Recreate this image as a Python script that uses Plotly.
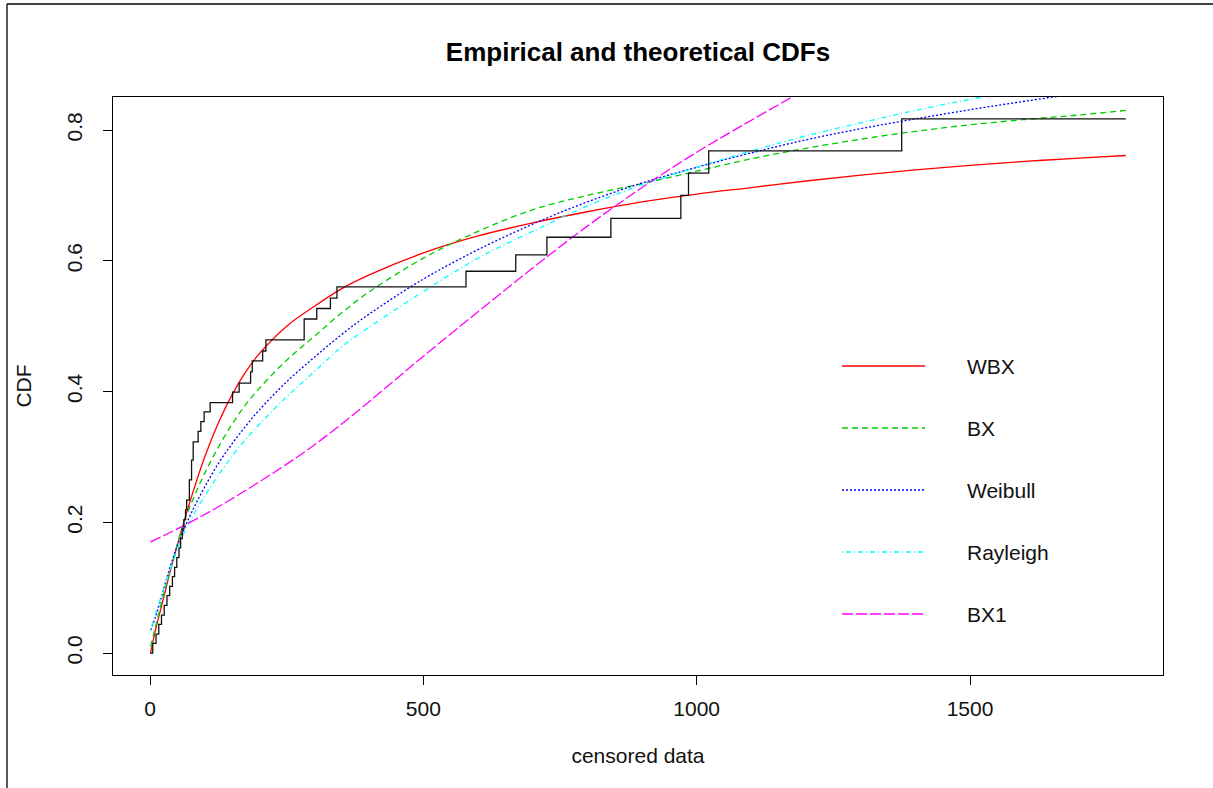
import plotly.graph_objects as go

# ---------------- data ----------------
ecdf_t = [0, 5, 11, 16, 21, 26, 31, 36, 41, 45, 49, 53, 56, 59, 62, 65, 67, 72, 76, 79, 88, 93, 99, 110,
          151, 163, 184, 187, 206, 212, 282, 305, 330, 342, 578, 669, 726, 843, 971, 985, 1022, 1375, 1785]
ecdf_F = [0.000, 0.015, 0.029, 0.044, 0.058, 0.073, 0.088, 0.102, 0.117, 0.131, 0.146, 0.161, 0.175, 0.190,
          0.204, 0.219, 0.234, 0.265, 0.295, 0.323, 0.339, 0.354, 0.369, 0.383,
          0.399, 0.413, 0.430, 0.447, 0.462, 0.479, 0.511, 0.527, 0.543, 0.560, 0.584, 0.609, 0.636, 0.665,
          0.700, 0.734, 0.768, 0.817, 0.817]

grid_x = [1, 10, 25, 40, 60, 80, 100, 125, 150, 175, 200, 250, 300, 350, 400, 500, 600, 700, 800, 900,
          1000, 1100, 1200, 1300, 1400, 1500, 1600, 1700, 1785]

wbx_y = [0.000, 0.035, 0.085, 0.135, 0.195, 0.250, 0.300, 0.352, 0.395, 0.430, 0.458, 0.500, 0.530, 0.557,
         0.578, 0.612, 0.638, 0.658, 0.675, 0.690, 0.702, 0.712, 0.722, 0.731, 0.739, 0.746, 0.752, 0.757, 0.761]

bx_y = [0.010, 0.040, 0.090, 0.135, 0.195, 0.238, 0.275, 0.315, 0.350, 0.380, 0.405, 0.448, 0.484, 0.520,
        0.552, 0.604, 0.645, 0.678, 0.700, 0.718, 0.737, 0.756, 0.772, 0.786, 0.798, 0.808, 0.816, 0.823, 0.830]

wei_y = [0.035, 0.055, 0.098, 0.140, 0.185, 0.222, 0.254, 0.290, 0.320, 0.347, 0.372, 0.415, 0.452, 0.487,
         0.518, 0.572, 0.617, 0.656, 0.690, 0.719, 0.743, 0.765, 0.785, 0.802, 0.817, 0.831, 0.844, 0.856, 0.865]

ray_y = [0.035, 0.060, 0.098, 0.135, 0.180, 0.212, 0.240, 0.272, 0.301, 0.327, 0.350, 0.392, 0.430, 0.468,
         0.498, 0.553, 0.604, 0.645, 0.684, 0.716, 0.743, 0.768, 0.791, 0.811, 0.830, 0.847, 0.862, 0.875, 0.885]

bx1_x = [1, 50, 100, 150, 200, 250, 300, 350, 400, 450, 500, 600, 700, 800, 900, 1000, 1100, 1200, 1300]
bx1_y = [0.170, 0.190, 0.212, 0.236, 0.262, 0.289, 0.318, 0.350, 0.384, 0.419, 0.454, 0.522, 0.589, 0.653,
         0.712, 0.766, 0.815, 0.862, 0.905]

x_ticks = [0, 500, 1000, 1500]
y_ticks = [0.0, 0.2, 0.4, 0.6, 0.8]
y_tick_labels = ["0.0", "0.2", "0.4", "0.6", "0.8"]

legend_names = ["WBX", "BX", "Weibull", "Rayleigh", "BX1"]
legend_colors = ["#ff0000", "#00cd00", "#0000ff", "#00ffff", "#ff00ff"]
legend_dash = ["solid", "6px,4px", "2px,2px", "1px,3px,5px,3px", "11px,3px"]

# ---------------- layout geometry ----------------
W, H = 1213, 788
L, R, T, B = 113, 1163, 97, 675
FONT = "Liberation Sans, Arial, sans-serif"


def px(xp):
    return (xp - L) / (R - L)


def py(yp):
    return (B - yp) / (B - T)


fig = go.Figure()

curves = [(grid_x, wbx_y), (grid_x, bx_y), (grid_x, wei_y), (grid_x, ray_y), (bx1_x, bx1_y)]
for (cx, cy), name, col, dash in zip(curves, legend_names, legend_colors, legend_dash):
    fig.add_trace(go.Scatter(x=cx, y=cy, mode="lines", name=name,
                             line=dict(color=col, width=1.3, dash=dash, shape="spline", smoothing=1.0),
                             showlegend=False))

fig.add_trace(go.Scatter(x=ecdf_t, y=ecdf_F, mode="lines", name="empirical",
                         line=dict(color="#111111", width=1.3, shape="hv"), showlegend=False))

shapes = []
annotations = []
rows = [366, 428, 490, 552, 614]
for name, col, dash, ry in zip(legend_names, legend_colors, legend_dash, rows):
    shapes.append(dict(type="line", xref="paper", yref="paper", x0=px(842), x1=px(925), y0=py(ry), y1=py(ry),
                       line=dict(color=col, width=1.3, dash=dash)))
    annotations.append(dict(text=name, xref="paper", yref="paper", x=px(965), y=py(ry), xanchor="left",
                            yanchor="middle", showarrow=False, font=dict(family=FONT, size=21, color="#111")))

# outer image border (left and top)
shapes.append(dict(type="line", xref="paper", yref="paper", x0=px(7), x1=px(7), y0=py(4), y1=py(800),
                   line=dict(color="black", width=1.3)))
shapes.append(dict(type="line", xref="paper", yref="paper", x0=px(7), x1=px(1220), y0=py(4), y1=py(4),
                   line=dict(color="black", width=1.3)))

fig.update_layout(
    width=W, height=H,
    margin=dict(l=L, r=W - R, t=T, b=H - B),
    paper_bgcolor="white", plot_bgcolor="white",
    font=dict(family=FONT, color="#111"),
    title=dict(text="<b>Empirical and theoretical CDFs</b>", x=px(638), xref="paper", xanchor="center",
               y=1 - 52 / H, yref="container", yanchor="middle",
               font=dict(family=FONT, size=26, color="black")),
    shapes=shapes,
    annotations=annotations,
    xaxis=dict(range=[-67.7, 1853], tickvals=x_ticks, ticktext=[str(v) for v in x_ticks],
               showgrid=False, zeroline=False, showline=True, mirror=True, linecolor="black", linewidth=1.3,
               ticks="outside", ticklen=9, tickwidth=1, tickcolor="black", ticklabelstandoff=6,
               tickfont=dict(family=FONT, size=21, color="#111"),
               title=dict(text="censored data", font=dict(family=FONT, size=21, color="#111"), standoff=28)),
    yaxis=dict(range=[-0.0335, 0.8505], tickvals=y_ticks, ticktext=y_tick_labels, tickangle=-90,
               showgrid=False, zeroline=False, showline=True, mirror=True, linecolor="black", linewidth=1.3,
               ticks="outside", ticklen=9, tickwidth=1, tickcolor="black", ticklabelstandoff=12,
               tickfont=dict(family=FONT, size=21, color="#111"),
               title=dict(text="CDF", font=dict(family=FONT, size=21, color="#111"), standoff=26)),
)

fig.write_html("out.html")
